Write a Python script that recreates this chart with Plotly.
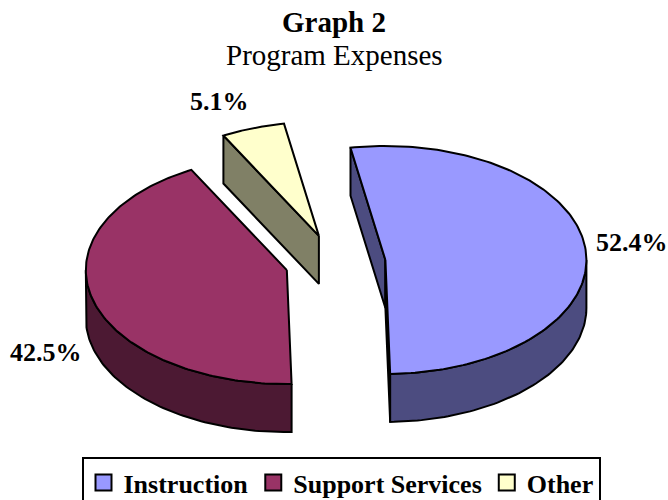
import numpy as np
import plotly.graph_objects as go

# ---- data ----
categories = ["Instruction", "Support Services", "Other"]
shares = [52.4, 42.5, 5.1]
label_text = ["52.4%", "42.5%", "5.1%"]
top_colors = ["#9999FF", "#993366", "#FFFFCC"]
side_colors = ["#4C4C80", "#4C1933", "#808066"]

# ---- geometry / style (pixel space of the 668x500 figure) ----
W, H = 668, 500
CX, CY = 335.4, 262.8      # centre of the un-exploded pie
RX, RY = 201.0, 114.0      # ellipse radii of the tilted pie
DEPTH = 48.0               # thickness of the pie
PULL = 0.25                # explosion (fraction of radius)
START = 100.0              # angle of first slice edge (deg, CCW from 3 o'clock)
LAB_R = 1.05
LAB_LIFT = 6.0
FRONT_DROP = 1.2           # labels of front slices sit below the pie side
FONT = "Liberation Serif"

fig = go.Figure()


def rim(ax, ay, th, dz=0.0):
    t = np.radians(th)
    return ax + RX * np.cos(t), ay - RY * np.sin(t) + dz


def poly(xs, ys, fill):
    fig.add_trace(go.Scatter(
        x=list(xs) + [xs[0]], y=list(ys) + [ys[0]], mode="lines",
        fill="toself", fillcolor=fill,
        line=dict(color="black", width=2), hoverinfo="skip",
        showlegend=False))


slices = []
cum = 0.0
for i, s in enumerate(shares):
    a1 = START - 360.0 * cum / 100.0
    a2 = a1 - 360.0 * s / 100.0
    cum += s
    mid = (a1 + a2) / 2.0
    ax = CX + PULL * RX * np.cos(np.radians(mid))
    ay = CY - PULL * RY * np.sin(np.radians(mid))
    slices.append(dict(i=i, a1=a1, a2=a2, mid=mid, ax=ax, ay=ay))

# paint from back to front
for sl in sorted(slices, key=lambda d: d["ay"]):
    i, a1, a2, ax, ay = sl["i"], sl["a1"], sl["a2"], sl["ax"], sl["ay"]
    # radial side walls that face the viewer
    for edge, nang in ((a1, a1 + 90.0), (a2, a2 - 90.0)):
        if np.sin(np.radians(nang)) < 0:
            rx_, ry_ = rim(ax, ay, edge)
            xs = [ax, rx_, rx_, ax]
            ys = [ay, ry_, ry_ + DEPTH, ay + DEPTH]
            poly(xs, ys, side_colors[i])
    # curved outer wall (front half only)
    for k in (-1, 0, 1):
        lo = max(a2, -180.0 + 360.0 * k)
        hi = min(a1, 0.0 + 360.0 * k)
        if hi > lo:
            th = np.linspace(hi, lo, 80)
            tx, ty = rim(ax, ay, th)
            bx, by = rim(ax, ay, th[::-1], DEPTH)
            poly(np.concatenate([tx, bx]), np.concatenate([ty, by]), side_colors[i])
    # top face
    th = np.linspace(a1, a2, 160)
    tx, ty = rim(ax, ay, th)
    poly(np.concatenate([[ax], tx]), np.concatenate([[ay], ty]), top_colors[i])

# percentage labels
for sl in slices:
    m = np.radians(sl["mid"])
    lx = sl["ax"] + LAB_R * RX * np.cos(m)
    ly = sl["ay"] - LAB_R * RY * np.sin(m) - LAB_LIFT
    if np.sin(m) < 0:
        ly += DEPTH * FRONT_DROP
    xa = "left" if np.cos(m) > 0 else "right"
    ya = "bottom" if np.sin(m) > 0.5 else "middle"
    fig.add_annotation(x=lx, y=ly, xref="x", yref="y", text="<b>%s</b>" % label_text[sl["i"]],
                       showarrow=False, xanchor=xa, yanchor=ya, borderpad=0,
                       font=dict(family=FONT, size=26, color="black"))

# legend entries
for name, c in zip(categories, top_colors):
    fig.add_trace(go.Scatter(
        x=[None], y=[None], mode="markers", name="<b>%s</b>" % name,
        marker=dict(symbol="square", size=16, color=c, line=dict(color="black", width=2))))

fig.add_annotation(x=0.5, y=1 - 55 / H, xref="paper", yref="paper",
                   text="Program Expenses", showarrow=False,
                   xanchor="center", yanchor="middle",
                   font=dict(family=FONT, size=29, color="black"))

fig.update_layout(
    width=W, height=H, autosize=False,
    margin=dict(l=0, r=0, t=0, b=0, autoexpand=False),
    paper_bgcolor="white", plot_bgcolor="white",
    title=dict(text="<b>Graph 2</b>", x=0.5, xanchor="center",
               y=1 - 22 / H, yanchor="middle", yref="container",
               font=dict(family=FONT, size=29, color="black")),
    xaxis=dict(range=[0, W], visible=False, fixedrange=True),
    yaxis=dict(range=[H, 0], visible=False, fixedrange=True),
    legend=dict(orientation="h", x=341 / W, xanchor="center",
                y=1 - 457 / H, yanchor="top",
                bordercolor="black", borderwidth=2, bgcolor="white",
                font=dict(family=FONT, size=26, color="black"),
                itemclick=False, itemdoubleclick=False),
    showlegend=True,
)

fig.write_html("out.html", config={"displayModeBar": False},
               post_script="document.body.style.margin='0px';")
